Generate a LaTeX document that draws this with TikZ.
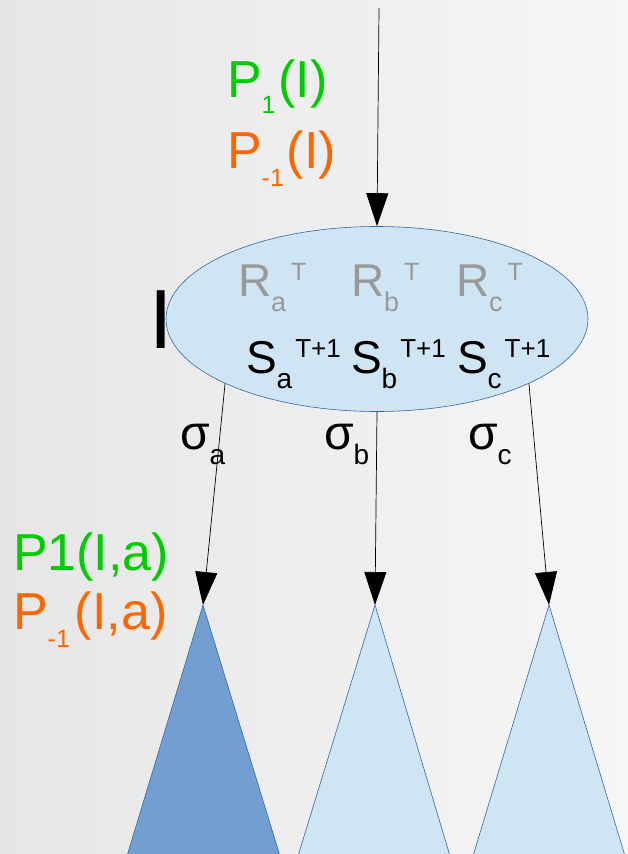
\documentclass[tikz,border=0pt]{standalone}
\usepackage{fontspec}
\setmainfont{Liberation Sans}
\usetikzlibrary{shapes.geometric,arrows.meta}
\definecolor{pgreen}{HTML}{00CC00}
\definecolor{porange}{HTML}{FF6600}
\definecolor{rgray}{HTML}{999999}
\definecolor{lblue}{HTML}{CFE5F4}
\definecolor{dblue}{HTML}{729FCF}
\definecolor{bborder}{HTML}{3465A4}
\definecolor{bgleft}{HTML}{E6E6E6}
\definecolor{bgright}{HTML}{F6F6F6}
\newcommand{\fs}[1]{\fontsize{#1}{#1}\selectfont}
\newcommand{\lowr}[3]{\raisebox{-#1pt}{\fs{#2}#3}}
\newcommand{\highr}[3]{\raisebox{#1pt}{\fs{#2}#3}}
\tikzset{
  lbl/.style={anchor=base west, inner sep=0pt, outer sep=0pt},
  conn/.style={draw=black, line width=0.7pt, -{Triangle[width=22pt,length=33pt]}},
  tri/.style={draw=bborder, line width=0.6pt},
}
\begin{document}
\begin{tikzpicture}[x=1pt,y=-1pt]
\useasboundingbox (0,0) rectangle (628,854);
\shade[left color=bgleft, right color=bgright] (0,0) rectangle (628,854);

% triangles
\filldraw[tri, fill=dblue] (127,856) -- (203,605) -- (280,856);
\filldraw[tri, fill=lblue] (298,856) -- (375,605) -- (450,856);
\filldraw[tri, fill=lblue] (473,856) -- (549,605) -- (625,856);
\coordinate (t1) at (203,605);
\coordinate (t2) at (375,605);
\coordinate (t3) at (549,605);
\coordinate (top) at (379,8);

% ellipse
\node[ellipse, draw=bborder, fill=lblue, line width=0.6pt, minimum width=422pt, minimum height=185pt, inner sep=0pt] (E) at (377,319) {};

% connectors
\draw[conn] (top) -- (E.north);
\draw[conn] (E.203) -- (t1);
\draw[conn] (E.south) -- (t2);
\draw[conn] (E.337) -- (t3);

% left bar label
\node[lbl] (I) at (149,348) {\fs{84}I};

% R labels
\node[lbl, text=rgray] (Ra) at (238,296) {\fs{46}R\lowr{15}{27}{a}\hspace{5pt}\highr{16}{25}{T}};
\node[lbl, text=rgray] (Rb) at (351,296) {\fs{46}R\lowr{15}{27}{b}\hspace{5pt}\highr{16}{25}{T}};
\node[lbl, text=rgray] (Rc) at (456,296) {\fs{46}R\lowr{15}{27}{c}\hspace{5pt}\highr{16}{25}{T}};

% S labels
\node[lbl] (Sa) at (246,373) {\fs{46}S\lowr{15}{28}{a}\hspace{3pt}\highr{16}{26}{T+1}};
\node[lbl] (Sb) at (351,373) {\fs{46}S\lowr{15}{28}{b}\hspace{3pt}\highr{16}{26}{T+1}};
\node[lbl] (Sc) at (457,373) {\fs{46}S\lowr{15}{28}{c}\hspace{3pt}\highr{16}{26}{T+1}};

% sigma labels
\node[lbl] (sa) at (180,449) {\fs{48}σ\lowr{15}{28}{a}};
\node[lbl] (sb) at (324,449) {\fs{48}σ\lowr{15}{28}{b}};
\node[lbl] (sc) at (468,449) {\fs{48}σ\lowr{15}{28}{c}};

% P labels top
\node[lbl, text=pgreen] (P1) at (227,97) {\fs{52}P\lowr{16}{25}{1}\hspace{3pt}(I)};
\node[lbl, text=porange] (Pm1) at (227,168) {\fs{52}P\lowr{18}{25}{-1}\hspace{3pt}(I)};

% P labels left
\node[lbl, text=pgreen] (P1a) at (13,570) {\fs{52}P1(I,a)};
\node[lbl, text=porange] (Pm1a) at (13,629) {\fs{52}P\lowr{18}{25}{-1}\hspace{5pt}(I,a)};
\end{tikzpicture}
\end{document}
